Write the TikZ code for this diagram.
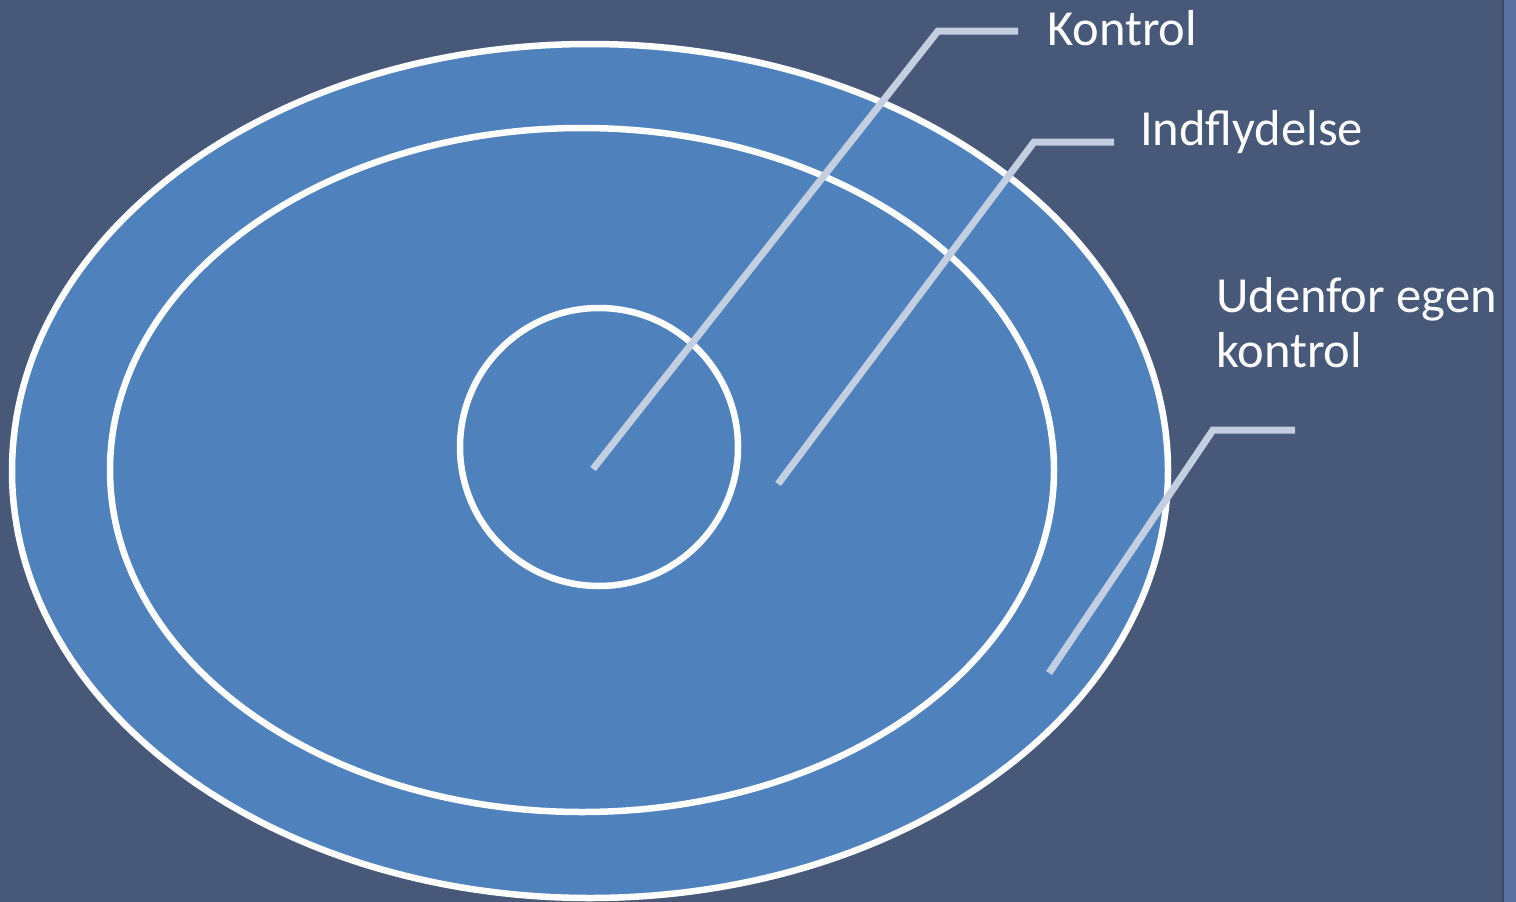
\documentclass[tikz,border=0pt]{standalone}
\usepackage{fontspec}
\setmainfont{Carlito}
\usepackage{xcolor}
\usepackage{tikz}
\definecolor{slateback}{RGB}{72,88,121}
\definecolor{slatestripe}{RGB}{90,112,160}
\definecolor{slateshade}{RGB}{60,74,104}
\definecolor{zoneblue}{RGB}{79,129,189}
\definecolor{leadgrey}{RGB}{196,206,225}

\begin{document}
\begin{tikzpicture}[x=1pt,y=-1pt, every node/.style={font=\fontsize{50.5}{55}\selectfont, text=white}]
  \tikzstyle{zonering}=[draw=white, fill=zoneblue, line width=6.5pt]
  \tikzstyle{leader}=[draw=leadgrey, line width=7pt, line join=miter]
  \tikzstyle{zonelabel}=[anchor=base west, inner sep=0pt, align=left]
  % background and side stripe
  \fill[slateback] (0,0) rectangle (1516,902);
  \useasboundingbox (0,0) rectangle (1516,902);
  \fill[slatestripe] (1504,0) rectangle (1516,902);
  \draw[slateshade, line width=2pt] (1503,0) -- (1503,902);
  % zones
  \draw[zonering] (590,471) ellipse [x radius=578, y radius=427];
  \draw[zonering] (582,470) ellipse [x radius=472, y radius=342];
  \draw[zonering] (599,447) circle [radius=139];
  % labels
  \node[zonelabel] (kontrol) at (1047,45) {Kontrol};
  \node[zonelabel] (indfly) at (1140,145) {Indflydelse};
  \node[zonelabel] (udenfor) at (1216,367) {Udenfor egen\\kontrol};
  % leader points
  \coordinate (kotip) at (593,469);
  \coordinate (kobend) at (938,31);
  \coordinate (koend) at (1018,31);
  \coordinate (intip) at (778,484);
  \coordinate (inbend) at (1034,142);
  \coordinate (inend) at (1114,142);
  \coordinate (udtip) at (1049,673);
  \coordinate (udbend) at (1213,430);
  \coordinate (udend) at (1295,430);
  \draw[leader] (kotip) -- (kobend) -- (koend);
  \draw[leader] (intip) -- (inbend) -- (inend);
  \draw[leader] (udtip) -- (udbend) -- (udend);
\end{tikzpicture}
\end{document}
